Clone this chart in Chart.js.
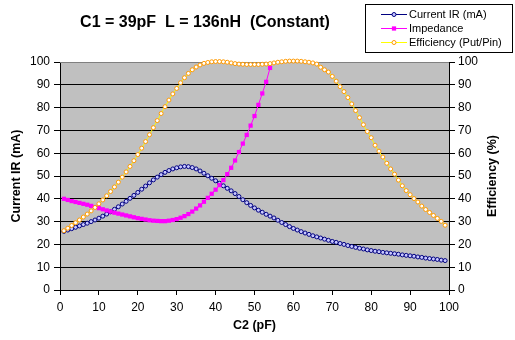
<!DOCTYPE html>
<html>
<head>
<meta charset="utf-8">
<title>C1 = 39pF  L = 136nH  (Constant)</title>
<script src="https://cdn.jsdelivr.net/npm/chart.js"></script>
<style>
  html, body { margin: 0; padding: 0; background: #fff; }
  #wrap { width: 515px; height: 340px; }
</style>
</head>
<body>
<div id="wrap"><canvas id="chart" width="515" height="340"></canvas></div>
<script>
// C2 sweep (pF)
const c2Values = [
  1, 2, 3, 4, 5, 6, 7, 8, 9, 10,
  11, 12, 13, 14, 15, 16, 17, 18, 19, 20,
  21, 22, 23, 24, 25, 26, 27, 28, 29, 30,
  31, 32, 33, 34, 35, 36, 37, 38, 39, 40,
  41, 42, 43, 44, 45, 46, 47, 48, 49, 50,
  51, 52, 53, 54, 55, 56, 57, 58, 59, 60,
  61, 62, 63, 64, 65, 66, 67, 68, 69, 70,
  71, 72, 73, 74, 75, 76, 77, 78, 79, 80,
  81, 82, 83, 84, 85, 86, 87, 88, 89, 90,
  91, 92, 93, 94, 95, 96, 97, 98, 99
];

// Current IR (mA)
const currentIR = [
  25.7, 26.3, 26.9, 27.5, 28.1, 28.7, 29.3, 30.0, 30.7, 31.5,
  32.4, 33.3, 34.3, 35.4, 36.5, 37.7, 38.9, 40.2, 41.5, 42.8,
  44.2, 45.6, 47.0, 48.3, 49.5, 50.6, 51.6, 52.4, 53.1, 53.6,
  54.0, 54.2, 54.1, 53.7, 53.1, 52.2, 51.2, 50.1, 49.0, 47.9,
  46.8, 45.7, 44.6, 43.5, 42.3, 41.0, 39.6, 38.3, 37.1, 36.0,
  35.0, 34.1, 33.2, 32.4, 31.6, 30.6, 29.6, 28.7, 27.8, 27.0,
  26.3, 25.6, 25.0, 24.4, 23.8, 23.3, 22.8, 22.3, 21.8, 21.3,
  20.9, 20.4, 20.0, 19.5, 19.1, 18.7, 18.3, 18.0, 17.6, 17.3,
  17.0, 16.8, 16.5, 16.3, 16.1, 15.9, 15.7, 15.4, 15.2, 15.0,
  14.8, 14.5, 14.3, 14.0, 13.8, 13.6, 13.4, 13.1, 12.9
];

// Impedance (runs off the top of the plot after 54 pF)
const impedance = [
  40.0, 39.5, 39.0, 38.6, 38.2, 37.8, 37.4, 36.9, 36.4, 35.9,
  35.4, 34.9, 34.4, 33.9, 33.5, 33.1, 32.7, 32.3, 31.9, 31.5,
  31.2, 30.9, 30.6, 30.4, 30.3, 30.2, 30.2, 30.4, 30.7, 31.1,
  31.7, 32.4, 33.3, 34.4, 35.7, 37.1, 38.7, 40.4, 42.2, 44.0,
  46.0, 48.2, 50.8, 53.6, 56.8, 60.5, 64.2, 68.0, 72.1, 76.3,
  81.2, 86.2, 91.3, 97.4, 104.0
];

// Efficiency (Put/Pin) %
const efficiency = [
  26.0, 27.1, 28.3, 29.5, 30.7, 32.0, 33.3, 34.7, 36.2, 37.8,
  39.5, 41.3, 43.2, 45.2, 47.3, 49.5, 51.8, 54.2, 56.7, 59.4,
  62.2, 65.1, 68.1, 71.2, 74.3, 77.4, 80.4, 83.3, 86.0, 88.4,
  90.9, 93.1, 95.0, 96.6, 97.8, 98.7, 99.4, 99.8, 100.1, 100.2,
  100.2, 100.1, 99.9, 99.6, 99.3, 99.1, 99.0, 98.9, 98.9, 98.9,
  98.9, 99.0, 99.1, 99.3, 99.6, 99.9, 100.1, 100.3, 100.4, 100.4,
  100.4, 100.3, 100.1, 99.9, 99.6, 99.1, 97.7, 96.6, 95.6, 93.7,
  91.6, 89.2, 87.0, 84.4, 81.6, 78.7, 75.6, 72.5, 69.5, 66.8,
  63.5, 60.9, 58.3, 55.6, 53.1, 50.8, 48.2, 45.7, 43.6, 41.8,
  40.1, 38.6, 36.8, 35.3, 34.0, 32.7, 31.4, 30.1, 28.4
];

const axisTicks = [0, 10, 20, 30, 40, 50, 60, 70, 80, 90, 100];

const chartTitle = 'C1 = 39pF  L = 136nH  (Constant)';
const leftTitle = 'Current IR (mA)';
const rightTitle = 'Efficiency (%)';
const bottomTitle = 'C2 (pF)';

const FONT = 'Arial, "Liberation Sans", sans-serif';
Chart.defaults.font.family = FONT;
Chart.defaults.color = '#000';

function toPoints(values) {
  return values.map((v, i) => ({ x: c2Values[i], y: v }));
}

// gray plot area + thin top edge
const plotBackground = {
  id: 'plotBackground',
  beforeDraw(chart) {
    const { ctx, chartArea: a } = chart;
    ctx.save();
    ctx.fillStyle = '#c0c0c0';
    ctx.fillRect(a.left, a.top, a.right - a.left, a.bottom - a.top);
    ctx.restore();
  },
  beforeDatasetsDraw(chart) {
    const { ctx, chartArea: a } = chart;
    ctx.save();
    ctx.strokeStyle = '#808080';
    ctx.lineWidth = 1;
    ctx.beginPath();
    ctx.moveTo(a.left, a.top + 0.5);
    ctx.lineTo(a.right, a.top + 0.5);
    ctx.stroke();
    ctx.restore();
  }
};

// title, right axis title and boxed legend, placed like the original
const extras = {
  id: 'extras',
  afterDraw(chart) {
    const { ctx, chartArea: a } = chart;
    ctx.save();
    ctx.fillStyle = '#000';

    ctx.font = 'bold 16px ' + FONT;
    ctx.textAlign = 'center';
    ctx.textBaseline = 'middle';
    ctx.fillText(chartTitle, 205, 23);

    ctx.font = 'bold 12.5px ' + FONT;
    ctx.translate(493, (a.top + a.bottom) / 2);
    ctx.rotate(-Math.PI / 2);
    ctx.fillText(rightTitle, 0, 0);
    ctx.setTransform(1, 0, 0, 1, 0, 0);

    // legend box
    ctx.strokeStyle = '#000';
    ctx.lineWidth = 1;
    ctx.strokeRect(365.5, 4.5, 147, 48);
    ctx.font = '11px ' + FONT;
    ctx.textAlign = 'left';
    const rows = [14, 28, 42];
    chart.data.datasets.forEach((ds, i) => {
      const y = rows[i] + 0.5;
      ctx.strokeStyle = ds.borderColor;
      ctx.beginPath();
      ctx.moveTo(381, y);
      ctx.lineTo(407, y);
      ctx.stroke();
      ctx.fillStyle = ds.pointBackgroundColor;
      ctx.strokeStyle = ds.pointBorderColor;
      Chart.helpers.drawPoint(ctx, {
        pointStyle: ds.pointStyle,
        radius: ds.pointRadius,
        borderWidth: ds.pointBorderWidth,
        rotation: 0
      }, 394, y);
      ctx.fillStyle = '#000';
      ctx.fillText(ds.label, 409, y);
    });
    ctx.restore();
  }
};

const ctx = document.getElementById('chart').getContext('2d');
new Chart(ctx, {
  type: 'line',
  data: {
    datasets: [
      {
        label: 'Current IR (mA)',
        data: toPoints(currentIR),
        yAxisID: 'y',
        borderColor: '#000080',
        borderWidth: 1,
        pointStyle: 'circle',
        pointRadius: 2,
        pointBorderWidth: 1,
        pointBorderColor: '#000080',
        pointBackgroundColor: '#c8c8ff',
        clip: false,
        order: 3
      },
      {
        label: 'Impedance',
        data: toPoints(impedance),
        yAxisID: 'y',
        borderColor: '#ff00ff',
        borderWidth: 1,
        pointStyle: 'rect',
        pointRadius: 3,
        pointBorderWidth: 0,
        pointBorderColor: '#ff00ff',
        pointBackgroundColor: '#ff00ff',
        clip: { left: 5, right: 5, top: 0, bottom: 5 },
        order: 2
      },
      {
        label: 'Efficiency (Put/Pin)',
        data: toPoints(efficiency),
        yAxisID: 'y2',
        borderColor: '#ffff00',
        borderWidth: 1,
        pointStyle: 'circle',
        pointRadius: 2,
        pointBorderWidth: 1,
        pointBorderColor: '#ff9900',
        pointBackgroundColor: '#ffffff',
        clip: false,
        order: 1
      }
    ]
  },
  options: {
    responsive: false,
    animation: false,
    layout: { padding: { top: 62, left: 0, right: 0, bottom: 0 } },
    plugins: {
      legend: { display: false },
      tooltip: { enabled: false },
      title: { display: false }
    },
    scales: {
      x: {
        type: 'linear',
        position: 'bottom',
        min: 0,
        max: 100,
        afterBuildTicks: s => { s.ticks = axisTicks.map(v => ({ value: v })); },
        afterFit: s => { s.height = 50; },
        ticks: { font: { size: 12 }, color: '#000', padding: 5, maxRotation: 0 },
        grid: { drawOnChartArea: false, tickLength: 5, tickColor: '#000' },
        border: { color: '#000', width: 1 },
        title: {
          display: true,
          text: bottomTitle,
          font: { size: 12.5, weight: 'bold' },
          color: '#000',
          padding: { top: 0, bottom: 7 }
        }
      },
      y: {
        position: 'left',
        min: 0,
        max: 100,
        afterBuildTicks: s => { s.ticks = axisTicks.map(v => ({ value: v })); },
        afterFit: s => { s.width = 60; },
        ticks: { font: { size: 12 }, color: '#000', padding: 4 },
        grid: {
          color: c => (c.tick && (c.tick.value === 0 || c.tick.value === 100)) ? 'rgba(0,0,0,0)' : '#000',
          borderDash: [4, 3],
          tickBorderDash: [],
          tickColor: '#000',
          tickLength: 6,
          lineWidth: 1
        },
        border: { color: '#000', width: 1 },
        title: {
          display: true,
          text: leftTitle,
          font: { size: 12.5, weight: 'bold' },
          color: '#000',
          padding: { top: 9, bottom: 0 }
        }
      },
      y2: {
        position: 'right',
        min: 0,
        max: 100,
        afterBuildTicks: s => { s.ticks = axisTicks.map(v => ({ value: v })); },
        afterFit: s => { s.width = 66; },
        ticks: { font: { size: 12 }, color: '#000', padding: 3 },
        grid: { drawOnChartArea: false, tickColor: '#000', tickLength: 6 },
        border: { color: '#000', width: 1 }
      }
    }
  },
  plugins: [plotBackground, extras]
});
</script>
</body>
</html>
